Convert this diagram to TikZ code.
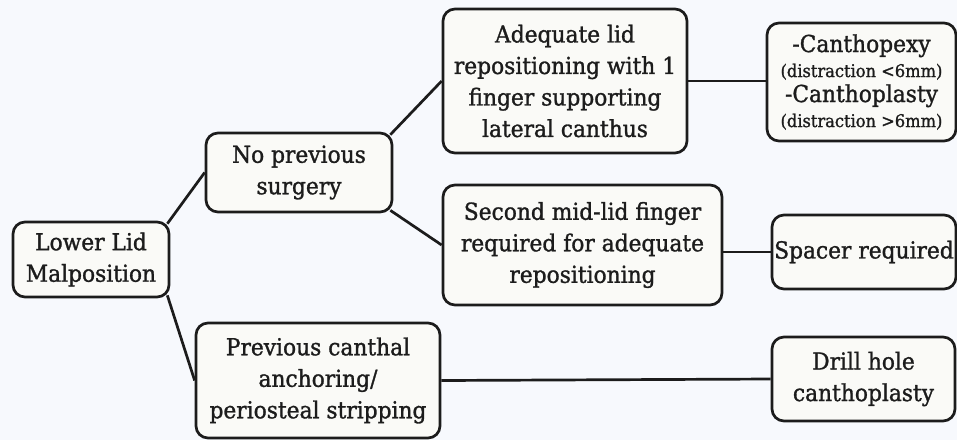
\documentclass[tikz,border=0pt]{standalone}
\usepackage{fontspec}
\setmainfont{DejaVu Serif}[FakeStretch=0.93,FakeBold=1.2]
\usetikzlibrary{calc}
\definecolor{bgc}{HTML}{F7F9FD}
\definecolor{boxfill}{HTML}{FAFAF7}
\definecolor{ink}{HTML}{1C1C1C}
\tikzset{
  box/.style={draw=ink, line width=2.7pt, fill=boxfill, rounded corners=12pt,
    align=center, inner sep=0pt, text=ink,
    font={\fontsize{23.4}{31.5}\selectfont}},
  conn/.style={draw=ink, line width=2.7pt},
}
\newcommand{\smalltxt}[1]{{\fontsize{17.5}{25}\selectfont #1}}
\begin{document}
\begin{tikzpicture}[x=1pt, y=-1pt]
\fill[bgc] (0,0) rectangle (957,440);
\useasboundingbox (0,0) rectangle (957,440);

\node[box, minimum width=156pt, minimum height=75pt] (low) at (91,259.5) {Lower Lid\\Malposition};
\node[box, minimum width=186pt, minimum height=79pt] (nps) at (299,172.5) {No previous\\surgery};
\node[box, minimum width=244pt, minimum height=115pt] (prev) at (318,380.5) {Previous canthal\\anchoring/\\periosteal stripping};
\node[box, minimum width=244pt, minimum height=144pt] (adeq) at (565,81) {Adequate lid\\repositioning with 1\\finger supporting\\lateral canthus};
\node[box, minimum width=279pt, minimum height=120pt] (second) at (582.5,245) {Second mid-lid finger\\required for adequate\\repositioning};
\node[box, minimum width=189pt, minimum height=118pt, font={\fontsize{23.4}{25}\selectfont}] (canth) at (861.5,82) {-Canthopexy\\\smalltxt{(distraction <6mm)}\\-Canthoplasty\\\smalltxt{(distraction >6mm)}};
\node[box, minimum width=184pt, minimum height=74pt] (spacer) at (864,252) {Spacer required};
\node[box, minimum width=183pt, minimum height=84pt] (drill) at (863.5,379) {Drill hole\\canthoplasty};

\draw[conn] ($(low.north east)+(-3,3)$) -- (nps.west);
\draw[conn] ($(low.south east)+(-3,-3)$) -- (prev.west);
\draw[conn] ($(nps.north east)+(-3,3)$) -- (adeq.west);
\draw[conn] ($(nps.south east)+(-3,-3)$) -- (second.west);
\draw[conn] (adeq.east) -- (adeq.east -| canth.west);
\draw[conn] (spacer.west -| second.east) -- (spacer.west);
\draw[conn] (prev.east) -- (drill.west);
\end{tikzpicture}
\end{document}
